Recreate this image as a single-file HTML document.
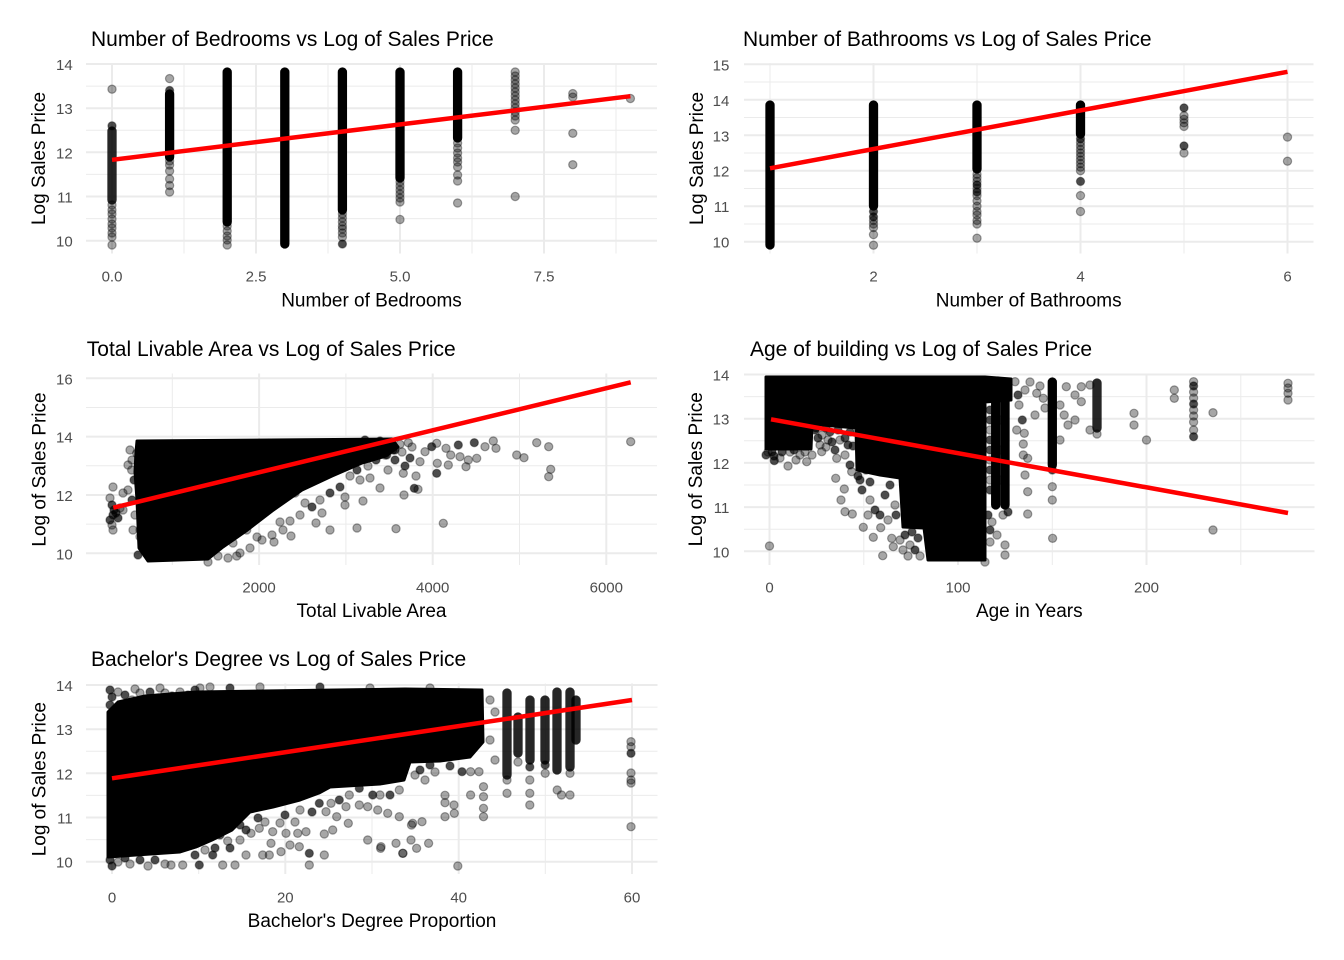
<!DOCTYPE html>
<html><head><meta charset="utf-8"><style>
html,body{margin:0;padding:0;background:#fff;}
svg{display:block;font-family:"Liberation Sans",Arial,sans-serif;}
.mj{stroke:#EBEBEB;stroke-width:2;}
.mn{stroke:#EBEBEB;stroke-width:1;}
.g circle{fill:#000;fill-opacity:.35;stroke:#000;stroke-opacity:.35;stroke-width:1.2;}
.g circle.d{fill-opacity:.7;}
.c{stroke:#000;stroke-width:9.3;stroke-linecap:round;}
.c2{stroke:#000;stroke-opacity:.85;stroke-width:9.3;stroke-linecap:round;}
.rl{stroke:#FF0000;stroke-width:4.5;}
.tk{font-size:15px;fill:#4D4D4D;}
.at{font-size:19px;fill:#000;}
.tt{font-size:21px;fill:#000;}
</style></head><body>
<svg width="1344" height="960" viewBox="0 0 1344 960" xmlns="http://www.w3.org/2000/svg">
<rect width="1344" height="960" fill="#fff"/>

<!-- ================= PANEL 1 ================= -->
<g>
<line class="mn" x1="86" x2="657" y1="218.6" y2="218.6"/><line class="mn" x1="86" x2="657" y1="174.4" y2="174.4"/><line class="mn" x1="86" x2="657" y1="130.3" y2="130.3"/><line class="mn" x1="86" x2="657" y1="86.1" y2="86.1"/>
<line class="mn" y1="63" y2="253.5" x1="184" x2="184"/><line class="mn" y1="63" y2="253.5" x1="328" x2="328"/><line class="mn" y1="63" y2="253.5" x1="472" x2="472"/><line class="mn" y1="63" y2="253.5" x1="616" x2="616"/>
<line class="mj" x1="86" x2="657" y1="240.7" y2="240.7"/><line class="mj" x1="86" x2="657" y1="196.5" y2="196.5"/><line class="mj" x1="86" x2="657" y1="152.3" y2="152.3"/><line class="mj" x1="86" x2="657" y1="108.2" y2="108.2"/><line class="mj" x1="86" x2="657" y1="64" y2="64"/>
<line class="mj" y1="63" y2="253.5" x1="112" x2="112"/><line class="mj" y1="63" y2="253.5" x1="256" x2="256"/><line class="mj" y1="63" y2="253.5" x1="400" x2="400"/><line class="mj" y1="63" y2="253.5" x1="544" x2="544"/>

<line class="c2" x1="112" x2="112" y1="131" y2="200"/>
<line class="c" x1="169.6" x2="169.6" y1="94" y2="157"/>
<line class="c" x1="227.2" x2="227.2" y1="72" y2="222"/>
<line class="c" x1="284.8" x2="284.8" y1="72" y2="244"/>
<line class="c" x1="342.4" x2="342.4" y1="72" y2="210"/>
<line class="c" x1="400" x2="400" y1="72" y2="178"/>
<line class="c" x1="457.6" x2="457.6" y1="72" y2="138"/>
<g class="g">
<circle cx="112" cy="89.2" r="4.1"/><circle cx="112" cy="125.8" r="4.1" class="d"/><circle cx="112" cy="205" r="4.1"/><circle cx="112" cy="210" r="4.1"/><circle cx="112" cy="214" r="4.1"/><circle cx="112" cy="219" r="4.1"/><circle cx="112" cy="224" r="4.1"/><circle cx="112" cy="228" r="4.1"/><circle cx="112" cy="233" r="4.1"/><circle cx="112" cy="237" r="4.1"/><circle cx="112" cy="245" r="4.1"/>
<circle cx="169.6" cy="78.6" r="4.1"/><circle cx="169.6" cy="90.5" r="4.1" class="d"/><circle cx="169.6" cy="161" r="4.1"/><circle cx="169.6" cy="165" r="4.1"/><circle cx="169.6" cy="171" r="4.1"/><circle cx="169.6" cy="179" r="4.1"/><circle cx="169.6" cy="185.5" r="4.1"/><circle cx="169.6" cy="192" r="4.1"/>
<circle cx="227.2" cy="226" r="4.1"/><circle cx="227.2" cy="231" r="4.1"/><circle cx="227.2" cy="236" r="4.1"/><circle cx="227.2" cy="240" r="4.1"/><circle cx="227.2" cy="245" r="4.1"/>
<circle cx="342.4" cy="214" r="4.1"/><circle cx="342.4" cy="218" r="4.1"/><circle cx="342.4" cy="222" r="4.1"/><circle cx="342.4" cy="226" r="4.1"/><circle cx="342.4" cy="229" r="4.1"/><circle cx="342.4" cy="233" r="4.1"/><circle cx="342.4" cy="237" r="4.1"/><circle cx="342.4" cy="244" r="4.1" class="d"/>
<circle cx="400" cy="182" r="4.1"/><circle cx="400" cy="186" r="4.1"/><circle cx="400" cy="190" r="4.1"/><circle cx="400" cy="194" r="4.1"/><circle cx="400" cy="198" r="4.1"/><circle cx="400" cy="202" r="4.1"/><circle cx="400" cy="219.5" r="4.1"/>
<circle cx="457.6" cy="143" r="4.1"/><circle cx="457.6" cy="148" r="4.1"/><circle cx="457.6" cy="153" r="4.1"/><circle cx="457.6" cy="158" r="4.1"/><circle cx="457.6" cy="162" r="4.1"/><circle cx="457.6" cy="167" r="4.1"/><circle cx="457.6" cy="175" r="4.1"/><circle cx="457.6" cy="181" r="4.1"/><circle cx="457.6" cy="203" r="4.1"/>
<circle cx="515.2" cy="72" r="4.1"/><circle cx="515.2" cy="76" r="4.1"/><circle cx="515.2" cy="80" r="4.1"/><circle cx="515.2" cy="84" r="4.1"/><circle cx="515.2" cy="88" r="4.1"/><circle cx="515.2" cy="92" r="4.1"/><circle cx="515.2" cy="96" r="4.1"/><circle cx="515.2" cy="100" r="4.1"/><circle cx="515.2" cy="104" r="4.1"/><circle cx="515.2" cy="108" r="4.1"/><circle cx="515.2" cy="112" r="4.1"/><circle cx="515.2" cy="116" r="4.1"/><circle cx="515.2" cy="120" r="4.1"/><circle cx="515.2" cy="130.3" r="4.1"/><circle cx="515.2" cy="196.5" r="4.1"/>
<circle cx="572.8" cy="93.6" r="4.1"/><circle cx="572.8" cy="97.1" r="4.1"/><circle cx="572.8" cy="133.3" r="4.1"/><circle cx="572.8" cy="164.7" r="4.1"/>
<circle cx="630.4" cy="98.5" r="4.1"/>
</g>
<line class="rl" x1="112" y1="159.8" x2="630.4" y2="96.2"/>

<text class="tk" x="72.7" y="70" text-anchor="end">14</text><text class="tk" x="72.7" y="114.2" text-anchor="end">13</text><text class="tk" x="72.7" y="158.3" text-anchor="end">12</text><text class="tk" x="72.7" y="202.5" text-anchor="end">11</text><text class="tk" x="72.7" y="246.7" text-anchor="end">10</text>
<text class="tk" x="112" y="281.7" text-anchor="middle">0.0</text><text class="tk" x="256" y="281.7" text-anchor="middle">2.5</text><text class="tk" x="400" y="281.7" text-anchor="middle">5.0</text><text class="tk" x="544" y="281.7" text-anchor="middle">7.5</text>
<text class="at" x="371.5" y="306.7" text-anchor="middle">Number of Bedrooms</text>
<text class="at" transform="translate(45.2,158.5) rotate(-90)" text-anchor="middle">Log Sales Price</text>
<text class="tt" x="91" y="46">Number of Bedrooms vs Log of Sales Price</text>
</g>

<!-- ================= PANEL 2 ================= -->
<g>
<line class="mn" x1="744" x2="1313.5" y1="224" y2="224"/><line class="mn" x1="744" x2="1313.5" y1="188.5" y2="188.5"/><line class="mn" x1="744" x2="1313.5" y1="153" y2="153"/><line class="mn" x1="744" x2="1313.5" y1="117.5" y2="117.5"/><line class="mn" x1="744" x2="1313.5" y1="82" y2="82"/>
<line class="mn" y1="63" y2="253.5" x1="770" x2="770"/><line class="mn" y1="63" y2="253.5" x1="977" x2="977"/><line class="mn" y1="63" y2="253.5" x1="1184" x2="1184"/>
<line class="mj" x1="744" x2="1313.5" y1="241.7" y2="241.7"/><line class="mj" x1="744" x2="1313.5" y1="206.2" y2="206.2"/><line class="mj" x1="744" x2="1313.5" y1="170.7" y2="170.7"/><line class="mj" x1="744" x2="1313.5" y1="135.3" y2="135.3"/><line class="mj" x1="744" x2="1313.5" y1="99.8" y2="99.8"/><line class="mj" x1="744" x2="1313.5" y1="64.3" y2="64.3"/>
<line class="mj" y1="63" y2="253.5" x1="873.5" x2="873.5"/><line class="mj" y1="63" y2="253.5" x1="1080.5" x2="1080.5"/><line class="mj" y1="63" y2="253.5" x1="1287.5" x2="1287.5"/>

<line class="c" x1="770" x2="770" y1="105" y2="245"/>
<line class="c" x1="873.5" x2="873.5" y1="105" y2="206"/>
<line class="c" x1="977" x2="977" y1="105" y2="169"/>
<line class="c" x1="1080.5" x2="1080.5" y1="105" y2="134"/>
<g class="g">
<circle cx="873.5" cy="211.5" r="4.1" class="d"/><circle cx="873.5" cy="216.9" r="4.1" class="d"/><circle cx="873.5" cy="220.4" r="4.1"/><circle cx="873.5" cy="224" r="4.1"/><circle cx="873.5" cy="227.5" r="4.1"/><circle cx="873.5" cy="234.6" r="4.1"/><circle cx="873.5" cy="245.2" r="4.1"/>
<circle cx="977" cy="174.3" r="4.1"/><circle cx="977" cy="177.8" r="4.1"/><circle cx="977" cy="181.4" r="4.1"/><circle cx="977" cy="184.9" r="4.1" class="d"/><circle cx="977" cy="188.5" r="4.1"/><circle cx="977" cy="192" r="4.1" class="d"/><circle cx="977" cy="195.6" r="4.1"/><circle cx="977" cy="200.9" r="4.1"/><circle cx="977" cy="206.2" r="4.1"/><circle cx="977" cy="211.5" r="4.1"/><circle cx="977" cy="215.1" r="4.1"/><circle cx="977" cy="220.4" r="4.1"/><circle cx="977" cy="224" r="4.1"/><circle cx="977" cy="238.2" r="4.1"/>
<circle cx="1080.5" cy="138.8" r="4.1" class="d"/><circle cx="1080.5" cy="142.4" r="4.1"/><circle cx="1080.5" cy="145.9" r="4.1"/><circle cx="1080.5" cy="149.5" r="4.1"/><circle cx="1080.5" cy="153" r="4.1"/><circle cx="1080.5" cy="156.5" r="4.1"/><circle cx="1080.5" cy="160.1" r="4.1"/><circle cx="1080.5" cy="163.6" r="4.1"/><circle cx="1080.5" cy="167.2" r="4.1"/><circle cx="1080.5" cy="170.7" r="4.1"/><circle cx="1080.5" cy="181.4" r="4.1" class="d"/><circle cx="1080.5" cy="195.6" r="4.1"/><circle cx="1080.5" cy="211.5" r="4.1"/>
<circle cx="1184" cy="107.9" r="4.1" class="d"/><circle cx="1184" cy="115.7" r="4.1"/><circle cx="1184" cy="119.3" r="4.1"/><circle cx="1184" cy="122.8" r="4.1"/><circle cx="1184" cy="126.4" r="4.1"/><circle cx="1184" cy="145.9" r="4.1" class="d"/><circle cx="1184" cy="153" r="4.1"/>
<circle cx="1287.5" cy="137.1" r="4.1"/><circle cx="1287.5" cy="161.2" r="4.1"/>
</g>
<line class="rl" x1="770" y1="168.3" x2="1287.5" y2="71.8"/>

<text class="tk" x="729.3" y="70.3" text-anchor="end">15</text><text class="tk" x="729.3" y="105.8" text-anchor="end">14</text><text class="tk" x="729.3" y="141.3" text-anchor="end">13</text><text class="tk" x="729.3" y="176.7" text-anchor="end">12</text><text class="tk" x="729.3" y="212.2" text-anchor="end">11</text><text class="tk" x="729.3" y="247.7" text-anchor="end">10</text>
<text class="tk" x="873.5" y="281.7" text-anchor="middle">2</text><text class="tk" x="1080.5" y="281.7" text-anchor="middle">4</text><text class="tk" x="1287.5" y="281.7" text-anchor="middle">6</text>
<text class="at" x="1028.7" y="306.7" text-anchor="middle">Number of Bathrooms</text>
<text class="at" transform="translate(703,158.5) rotate(-90)" text-anchor="middle">Log Sales Price</text>
<text class="tt" x="743" y="46">Number of Bathrooms vs Log of Sales Price</text>
</g>

<!-- ================= PANEL 3 ================= -->
<g>
<line class="mn" x1="86" x2="657" y1="524.1" y2="524.1"/><line class="mn" x1="86" x2="657" y1="465.8" y2="465.8"/><line class="mn" x1="86" x2="657" y1="407.5" y2="407.5"/>
<line class="mn" y1="373.5" y2="565" x1="172.3" x2="172.3"/><line class="mn" y1="373.5" y2="565" x1="345.9" x2="345.9"/><line class="mn" y1="373.5" y2="565" x1="519.5" x2="519.5"/>
<line class="mj" x1="86" x2="657" y1="553.3" y2="553.3"/><line class="mj" x1="86" x2="657" y1="495" y2="495"/><line class="mj" x1="86" x2="657" y1="436.6" y2="436.6"/><line class="mj" x1="86" x2="657" y1="378.3" y2="378.3"/>
<line class="mj" y1="373.5" y2="565" x1="259.1" x2="259.1"/><line class="mj" y1="373.5" y2="565" x1="432.7" x2="432.7"/><line class="mj" y1="373.5" y2="565" x1="606.3" x2="606.3"/>

<path d="M137,441 L392,439 L398,447 L386,456 L362,463 L332,476 L302,490 L272,511 L246,531 L223,547 L208,559 L148,561 L139,548 L137,500 L135,472 L136,452 Z" fill="#000" stroke="#000" stroke-width="3" stroke-linejoin="round"/>
<g class="g">
<circle cx="112" cy="505" r="4.1" class="d"/><circle cx="114" cy="510" r="4.1" class="d"/><circle cx="113" cy="515" r="4.1" class="d"/><circle cx="110" cy="520" r="4.1" class="d"/><circle cx="116" cy="513" r="4.1" class="d"/><circle cx="120" cy="508" r="4.1"/><circle cx="118" cy="518" r="4.1" class="d"/><circle cx="112" cy="525" r="4.1"/><circle cx="113" cy="530" r="4.1"/><circle cx="113" cy="487" r="4.1"/><circle cx="123" cy="493" r="4.1"/><circle cx="110" cy="498" r="4.1"/><circle cx="128" cy="490" r="4.1"/><circle cx="123" cy="510" r="4.1"/>
<circle cx="136.7" cy="453.3" r="4.1"/><circle cx="131.7" cy="470" r="4.1"/><circle cx="140" cy="530" r="4.1"/><circle cx="140" cy="536.7" r="4.1"/><circle cx="143.3" cy="446.7" r="4.1" class="d"/><circle cx="132" cy="460" r="4.1"/><circle cx="134" cy="480" r="4.1" class="d"/><circle cx="135" cy="515" r="4.1"/><circle cx="138" cy="555" r="4.1" class="d"/><circle cx="130" cy="450" r="4.1"/><circle cx="128" cy="465" r="4.1"/><circle cx="132" cy="500" r="4.1" class="d"/><circle cx="133" cy="530" r="4.1"/>
<circle cx="365" cy="440" r="4.1" class="d"/><circle cx="372" cy="445" r="4.1"/><circle cx="380" cy="441" r="4.1" class="d"/><circle cx="388" cy="444" r="4.1"/><circle cx="395" cy="450" r="4.1" class="d"/><circle cx="385" cy="455" r="4.1"/><circle cx="376" cy="460" r="4.1" class="d"/><circle cx="368" cy="466" r="4.1"/><circle cx="357" cy="470" r="4.1" class="d"/><circle cx="350" cy="476" r="4.1"/><circle cx="360" cy="480" r="4.1"/><circle cx="340" cy="487" r="4.1" class="d"/><circle cx="345" cy="497" r="4.1"/><circle cx="330" cy="493" r="4.1" class="d"/><circle cx="320" cy="500" r="4.1"/><circle cx="312" cy="507" r="4.1" class="d"/><circle cx="300" cy="515" r="4.1"/><circle cx="290" cy="521" r="4.1"/><circle cx="283" cy="530" r="4.1"/><circle cx="272" cy="535" r="4.1"/><circle cx="262" cy="540" r="4.1"/><circle cx="250" cy="548" r="4.1"/><circle cx="240" cy="553" r="4.1"/><circle cx="228" cy="558" r="4.1"/><circle cx="218" cy="556" r="4.1"/>
<circle cx="257" cy="537" r="4.1"/><circle cx="274" cy="542" r="4.1"/><circle cx="291" cy="536" r="4.1"/><circle cx="316" cy="523" r="4.1"/><circle cx="330" cy="530" r="4.1"/><circle cx="345" cy="505" r="4.1"/><circle cx="363" cy="501" r="4.1"/><circle cx="370" cy="478" r="4.1"/><circle cx="380" cy="488" r="4.1"/><circle cx="233" cy="543" r="4.1"/><circle cx="246.7" cy="530" r="4.1"/><circle cx="280" cy="522" r="4.1"/><circle cx="295" cy="493" r="4.1"/><circle cx="305" cy="503" r="4.1"/><circle cx="322" cy="513" r="4.1"/><circle cx="236.7" cy="556" r="4.1"/><circle cx="208" cy="562" r="4.1"/><circle cx="357" cy="528" r="4.1"/>
<circle cx="400" cy="444.3" r="4.1"/><circle cx="408.3" cy="442.7" r="4.1"/><circle cx="403.3" cy="473.3" r="4.1"/><circle cx="404" cy="495" r="4.1"/><circle cx="396" cy="528.7" r="4.1"/><circle cx="414.3" cy="488.3" r="4.1" class="d"/><circle cx="418" cy="489.3" r="4.1"/><circle cx="425" cy="451.7" r="4.1"/><circle cx="431.7" cy="446.7" r="4.1" class="d"/><circle cx="436.7" cy="443.3" r="4.1"/><circle cx="446" cy="448.3" r="4.1"/><circle cx="437.3" cy="463.3" r="4.1"/><circle cx="436.7" cy="473.3" r="4.1" class="d"/><circle cx="448.3" cy="465" r="4.1"/><circle cx="443.3" cy="523.3" r="4.1"/><circle cx="450.7" cy="455" r="4.1"/><circle cx="460" cy="456.7" r="4.1"/><circle cx="458.3" cy="445" r="4.1" class="d"/><circle cx="466" cy="466.7" r="4.1"/><circle cx="468.3" cy="460" r="4.1"/><circle cx="474.3" cy="442.7" r="4.1" class="d"/><circle cx="476.7" cy="458.3" r="4.1"/><circle cx="485" cy="446.7" r="4.1"/><circle cx="493.3" cy="441" r="4.1"/><circle cx="496" cy="448.3" r="4.1"/><circle cx="516.7" cy="455" r="4.1"/><circle cx="524" cy="457.7" r="4.1"/><circle cx="536.7" cy="442.7" r="4.1"/><circle cx="548.7" cy="446.7" r="4.1"/><circle cx="550.7" cy="469.3" r="4.1"/><circle cx="548.7" cy="476.7" r="4.1"/><circle cx="630.7" cy="441.7" r="4.1"/><circle cx="420" cy="461.7" r="4.1"/><circle cx="386.7" cy="455" r="4.1" class="d"/><circle cx="393" cy="450" r="4.1" class="d"/><circle cx="388" cy="470" r="4.1"/><circle cx="395" cy="460" r="4.1" class="d"/><circle cx="410" cy="458" r="4.1" class="d"/><circle cx="405" cy="466" r="4.1" class="d"/><circle cx="416" cy="476" r="4.1"/><circle cx="402" cy="452" r="4.1"/><circle cx="412" cy="447" r="4.1"/>
</g>
<line class="rl" x1="113.3" y1="507.7" x2="630.7" y2="382.3"/>

<text class="tk" x="72.7" y="384.3" text-anchor="end">16</text><text class="tk" x="72.7" y="442.6" text-anchor="end">14</text><text class="tk" x="72.7" y="501" text-anchor="end">12</text><text class="tk" x="72.7" y="559.3" text-anchor="end">10</text>
<text class="tk" x="259.1" y="592.3" text-anchor="middle">2000</text><text class="tk" x="432.7" y="592.3" text-anchor="middle">4000</text><text class="tk" x="606.3" y="592.3" text-anchor="middle">6000</text>
<text class="at" x="371.5" y="617" text-anchor="middle">Total Livable Area</text>
<text class="at" transform="translate(45.4,469.5) rotate(-90)" text-anchor="middle">Log of Sales Price</text>
<text class="tt" x="86.8" y="356">Total Livable Area vs Log of Sales Price</text>
</g>

<!-- ================= PANEL 4 ================= -->
<g>
<line class="mn" x1="744" x2="1314.5" y1="529.2" y2="529.2"/><line class="mn" x1="744" x2="1314.5" y1="485" y2="485"/><line class="mn" x1="744" x2="1314.5" y1="440.8" y2="440.8"/><line class="mn" x1="744" x2="1314.5" y1="396.6" y2="396.6"/>
<line class="mn" y1="373.5" y2="565" x1="863.8" x2="863.8"/><line class="mn" y1="373.5" y2="565" x1="1052.3" x2="1052.3"/><line class="mn" y1="373.5" y2="565" x1="1240.8" x2="1240.8"/>
<line class="mj" x1="744" x2="1314.5" y1="551.3" y2="551.3"/><line class="mj" x1="744" x2="1314.5" y1="507.1" y2="507.1"/><line class="mj" x1="744" x2="1314.5" y1="462.9" y2="462.9"/><line class="mj" x1="744" x2="1314.5" y1="418.7" y2="418.7"/><line class="mj" x1="744" x2="1314.5" y1="374.5" y2="374.5"/>
<line class="mj" y1="373.5" y2="565" x1="769.5" x2="769.5"/><line class="mj" y1="373.5" y2="565" x1="958" x2="958"/><line class="mj" y1="373.5" y2="565" x1="1146.5" x2="1146.5"/>

<path d="M766,377 L985,377 L1011,379 L1011,400 L985,402 L985,560 L928,560 L924,528 L903,527 L900,478 L880,475 L857,470 L856,428 L812,424 L811,449 L766,449 Z" fill="#000" stroke="#000" stroke-width="3" stroke-linejoin="round"/>
<line class="c" x1="995.7" x2="995.7" y1="392" y2="505"/>
<line class="c" x1="1005" x2="1005" y1="392" y2="505"/>
<line class="c" x1="1052.3" x2="1052.3" y1="382" y2="465"/>
<line class="c2" x1="1097" x2="1097" y1="383" y2="428"/>
<g class="g">
<circle cx="990" cy="381" r="4.1" class="d"/><circle cx="998" cy="381" r="4.1"/><circle cx="1006" cy="383" r="4.1"/><circle cx="990" cy="395" r="4.1" class="d"/><circle cx="990" cy="410" r="4.1" class="d"/><circle cx="990" cy="420" r="4.1" class="d"/><circle cx="990" cy="430" r="4.1"/><circle cx="990" cy="440" r="4.1" class="d"/><circle cx="990" cy="450" r="4.1" class="d"/><circle cx="990" cy="460" r="4.1"/><circle cx="990" cy="470" r="4.1" class="d"/><circle cx="990" cy="480" r="4.1"/><circle cx="990" cy="490" r="4.1" class="d"/><circle cx="1000" cy="420" r="4.1"/><circle cx="1000" cy="450" r="4.1"/><circle cx="1000" cy="480" r="4.1"/><circle cx="988" cy="515" r="4.1" class="d"/><circle cx="992" cy="522" r="4.1"/><circle cx="990" cy="530" r="4.1" class="d"/><circle cx="997" cy="535" r="4.1"/><circle cx="990" cy="542" r="4.1"/><circle cx="1005" cy="545" r="4.1"/><circle cx="1003" cy="515" r="4.1"/><circle cx="1008" cy="512" r="4.1" class="d"/><circle cx="985" cy="562" r="4.1"/>
<circle cx="774.3" cy="460.7" r="4.1" class="d"/><circle cx="774" cy="456" r="4.1" class="d"/><circle cx="768" cy="452" r="4.1"/><circle cx="769.5" cy="546" r="4.1"/><circle cx="790" cy="452" r="4.1"/><circle cx="800" cy="455" r="4.1"/><circle cx="772" cy="452" r="4.1" class="d"/><circle cx="782" cy="452" r="4.1" class="d"/><circle cx="794" cy="450" r="4.1" class="d"/><circle cx="805" cy="452" r="4.1"/><circle cx="780" cy="458" r="4.1"/><circle cx="796" cy="460" r="4.1"/><circle cx="788" cy="466" r="4.1"/><circle cx="766" cy="455" r="4.1" class="d"/>
<circle cx="816" cy="428" r="4.1" class="d"/><circle cx="826" cy="428" r="4.1" class="d"/><circle cx="838" cy="430" r="4.1" class="d"/><circle cx="850" cy="432" r="4.1" class="d"/><circle cx="818" cy="438" r="4.1" class="d"/><circle cx="832" cy="442" r="4.1" class="d"/><circle cx="845" cy="438" r="4.1" class="d"/><circle cx="853" cy="446" r="4.1" class="d"/><circle cx="826" cy="447" r="4.1"/><circle cx="812" cy="455" r="4.1"/><circle cx="858" cy="476" r="4.1" class="d"/><circle cx="866" cy="470" r="4.1" class="d"/>
<circle cx="815" cy="430" r="4.1" class="d"/><circle cx="822" cy="435" r="4.1"/><circle cx="830" cy="432" r="4.1" class="d"/><circle cx="840" cy="440" r="4.1"/><circle cx="848" cy="445" r="4.1" class="d"/><circle cx="820" cy="445" r="4.1"/><circle cx="835" cy="450" r="4.1" class="d"/><circle cx="845" cy="455" r="4.1"/><circle cx="806.7" cy="461.7" r="4.1"/><circle cx="821.7" cy="451.7" r="4.1"/><circle cx="836.7" cy="458.3" r="4.1"/><circle cx="851.7" cy="471.7" r="4.1"/><circle cx="835.7" cy="478.3" r="4.1"/><circle cx="844.3" cy="489" r="4.1"/><circle cx="841" cy="500" r="4.1"/><circle cx="845" cy="511.7" r="4.1"/><circle cx="852.3" cy="514" r="4.1"/><circle cx="828" cy="440" r="4.1"/><circle cx="850" cy="465" r="4.1" class="d"/>
<circle cx="863.3" cy="527.3" r="4.1"/><circle cx="873.3" cy="537.3" r="4.1"/><circle cx="882.7" cy="555.7" r="4.1"/><circle cx="880.7" cy="527.7" r="4.1"/><circle cx="891.7" cy="538.3" r="4.1"/><circle cx="893.3" cy="546.7" r="4.1"/><circle cx="862" cy="490" r="4.1" class="d"/><circle cx="870" cy="500" r="4.1"/><circle cx="875" cy="510" r="4.1" class="d"/><circle cx="885" cy="495" r="4.1" class="d"/><circle cx="890" cy="485" r="4.1" class="d"/><circle cx="895" cy="505" r="4.1"/><circle cx="860" cy="480" r="4.1" class="d"/><circle cx="868" cy="515" r="4.1"/><circle cx="880" cy="515" r="4.1" class="d"/><circle cx="888" cy="520" r="4.1"/><circle cx="896" cy="515" r="4.1" class="d"/><circle cx="870" cy="482" r="4.1" class="d"/>
<circle cx="905" cy="535" r="4.1" class="d"/><circle cx="910" cy="545" r="4.1"/><circle cx="915" cy="550" r="4.1" class="d"/><circle cx="920" cy="556" r="4.1"/><circle cx="908" cy="556" r="4.1"/><circle cx="918" cy="538" r="4.1" class="d"/><circle cx="900" cy="540" r="4.1"/><circle cx="912" cy="532" r="4.1" class="d"/><circle cx="903" cy="550" r="4.1"/>
<circle cx="1015" cy="381.7" r="4.1"/><circle cx="1025" cy="390" r="4.1"/><circle cx="1036.7" cy="393.3" r="4.1"/><circle cx="1043.3" cy="398.3" r="4.1"/><circle cx="1035" cy="415" r="4.1"/><circle cx="1022.3" cy="420" r="4.1" class="d"/><circle cx="1016.7" cy="430" r="4.1"/><circle cx="1024.3" cy="433.3" r="4.1"/><circle cx="1023.3" cy="444" r="4.1"/><circle cx="1023.3" cy="455" r="4.1"/><circle cx="1027.7" cy="458.3" r="4.1"/><circle cx="1025" cy="475" r="4.1"/><circle cx="1027.7" cy="491.7" r="4.1"/><circle cx="1027.7" cy="514" r="4.1"/><circle cx="1019" cy="405" r="4.1"/><circle cx="1045" cy="408" r="4.1"/><circle cx="1030" cy="382" r="4.1"/><circle cx="1040" cy="386" r="4.1"/><circle cx="1018" cy="395" r="4.1" class="d"/><circle cx="1005" cy="555" r="4.1"/>
<circle cx="1052.3" cy="470" r="4.1" class="d"/><circle cx="1052.3" cy="486.7" r="4.1"/><circle cx="1052.3" cy="500" r="4.1"/><circle cx="1052.6" cy="538.3" r="4.1"/>
<circle cx="1066.3" cy="386.7" r="4.1"/><circle cx="1081.3" cy="386.7" r="4.1"/><circle cx="1075" cy="395" r="4.1"/><circle cx="1075" cy="420" r="4.1"/><circle cx="1090" cy="430" r="4.1"/><circle cx="1064.2" cy="415" r="4.1"/><circle cx="1060" cy="405" r="4.1"/><circle cx="1090" cy="385" r="4.1"/><circle cx="1081.3" cy="401.7" r="4.1"/><circle cx="1068" cy="425" r="4.1"/><circle cx="1060" cy="440" r="4.1"/><circle cx="1097" cy="434" r="4.1"/>
<circle cx="1134" cy="413.3" r="4.1"/><circle cx="1134" cy="425" r="4.1"/><circle cx="1146.5" cy="440" r="4.1"/><circle cx="1174.3" cy="390" r="4.1"/><circle cx="1174.3" cy="398.3" r="4.1"/>
<circle cx="1193.6" cy="381.7" r="4.1"/><circle cx="1193.6" cy="386" r="4.1" class="d"/><circle cx="1193.6" cy="392" r="4.1"/><circle cx="1193.6" cy="398" r="4.1"/><circle cx="1193.6" cy="404" r="4.1" class="d"/><circle cx="1193.6" cy="410" r="4.1"/><circle cx="1193.6" cy="416" r="4.1"/><circle cx="1193.6" cy="422" r="4.1"/><circle cx="1193.6" cy="430" r="4.1"/><circle cx="1193.6" cy="436.7" r="4.1" class="d"/>
<circle cx="1213" cy="412.7" r="4.1"/><circle cx="1213" cy="530" r="4.1"/><circle cx="1288" cy="383.3" r="4.1"/><circle cx="1288" cy="388" r="4.1"/><circle cx="1288" cy="393.3" r="4.1"/><circle cx="1288" cy="400" r="4.1"/>
</g>
<line class="rl" x1="771" y1="419.3" x2="1288" y2="513"/>

<text class="tk" x="729.3" y="380.5" text-anchor="end">14</text><text class="tk" x="729.3" y="424.7" text-anchor="end">13</text><text class="tk" x="729.3" y="468.9" text-anchor="end">12</text><text class="tk" x="729.3" y="513.1" text-anchor="end">11</text><text class="tk" x="729.3" y="557.3" text-anchor="end">10</text>
<text class="tk" x="769.5" y="592.3" text-anchor="middle">0</text><text class="tk" x="958" y="592.3" text-anchor="middle">100</text><text class="tk" x="1146.5" y="592.3" text-anchor="middle">200</text>
<text class="at" x="1029.3" y="617" text-anchor="middle">Age in Years</text>
<text class="at" transform="translate(702,469.3) rotate(-90)" text-anchor="middle">Log of Sales Price</text>
<text class="tt" x="750" y="356">Age of building vs Log of Sales Price</text>
</g>

<!-- ================= PANEL 5 ================= -->
<g>
<line class="mn" x1="86" x2="657.5" y1="839.6" y2="839.6"/><line class="mn" x1="86" x2="657.5" y1="795.4" y2="795.4"/><line class="mn" x1="86" x2="657.5" y1="751.3" y2="751.3"/><line class="mn" x1="86" x2="657.5" y1="707.1" y2="707.1"/>
<line class="mn" y1="683.5" y2="874" x1="198.7" x2="198.7"/><line class="mn" y1="683.5" y2="874" x1="372" x2="372"/><line class="mn" y1="683.5" y2="874" x1="545.3" x2="545.3"/>
<line class="mj" x1="86" x2="657.5" y1="861.7" y2="861.7"/><line class="mj" x1="86" x2="657.5" y1="817.5" y2="817.5"/><line class="mj" x1="86" x2="657.5" y1="773.3" y2="773.3"/><line class="mj" x1="86" x2="657.5" y1="729.2" y2="729.2"/><line class="mj" x1="86" x2="657.5" y1="685" y2="685"/>
<line class="mj" y1="683.5" y2="874" x1="112" x2="112"/><line class="mj" y1="683.5" y2="874" x1="285.3" x2="285.3"/><line class="mj" y1="683.5" y2="874" x1="458.7" x2="458.7"/><line class="mj" y1="683.5" y2="874" x1="632" x2="632"/>

<path d="M108,712 L118,702 L145,696 L196,692 L405,689 L482,690 L483,742 L470,757 L440,761 L410,762 L404,780 L380,784 L330,787 L319,793 L300,800 L273,807 L250,812 L232,830 L212,840 L196,847 L180,852 L108,857 Z" fill="#000" stroke="#000" stroke-width="3" stroke-linejoin="round"/>
<line class="c2" x1="507" x2="507" y1="693" y2="775"/>
<line class="c2" x1="518" x2="518" y1="717" y2="753"/>
<line class="c2" x1="530" x2="530" y1="700" y2="760"/>
<line class="c2" x1="545" x2="545" y1="700" y2="760"/>
<line class="c2" x1="557" x2="557" y1="692" y2="770"/>
<line class="c2" x1="570" x2="570" y1="692" y2="767"/>
<line class="c2" x1="576" x2="576" y1="700" y2="740"/>
<g class="g">
<circle cx="110" cy="690" r="4.1" class="d"/><circle cx="112" cy="697" r="4.1" class="d"/><circle cx="110" cy="705" r="4.1" class="d"/><circle cx="118" cy="692" r="4.1"/><circle cx="125" cy="695" r="4.1" class="d"/><circle cx="132" cy="700" r="4.1"/><circle cx="140" cy="693" r="4.1"/><circle cx="150" cy="692" r="4.1" class="d"/><circle cx="158" cy="698" r="4.1"/><circle cx="165" cy="693" r="4.1"/><circle cx="172" cy="696" r="4.1" class="d"/><circle cx="180" cy="692" r="4.1"/><circle cx="188" cy="695" r="4.1" class="d"/><circle cx="200" cy="688" r="4.1"/><circle cx="210" cy="687" r="4.1"/><circle cx="230" cy="688" r="4.1" class="d"/><circle cx="260" cy="687" r="4.1"/><circle cx="320" cy="687" r="4.1" class="d"/><circle cx="370" cy="688" r="4.1"/><circle cx="430" cy="688" r="4.1"/><circle cx="195" cy="690" r="4.1" class="d"/><circle cx="135" cy="689" r="4.1"/><circle cx="160" cy="688" r="4.1"/>
<circle cx="110" cy="860" r="4.1" class="d"/><circle cx="112" cy="866" r="4.1" class="d"/><circle cx="118" cy="862" r="4.1"/><circle cx="125" cy="858" r="4.1" class="d"/><circle cx="130" cy="864" r="4.1"/><circle cx="140" cy="860" r="4.1" class="d"/><circle cx="148" cy="866" r="4.1"/><circle cx="155" cy="860" r="4.1" class="d"/><circle cx="165" cy="864" r="4.1"/><circle cx="171" cy="865" r="4.1"/><circle cx="182.7" cy="865" r="4.1"/><circle cx="199.3" cy="865" r="4.1" class="d"/><circle cx="212.7" cy="855" r="4.1" class="d"/><circle cx="222.7" cy="865" r="4.1"/><circle cx="235" cy="865" r="4.1"/><circle cx="227.7" cy="841" r="4.1"/><circle cx="246" cy="855" r="4.1"/><circle cx="262.7" cy="855" r="4.1"/><circle cx="269.3" cy="855" r="4.1"/><circle cx="281" cy="851.7" r="4.1"/><circle cx="271" cy="843.3" r="4.1"/><circle cx="290" cy="845" r="4.1"/><circle cx="299.3" cy="846.7" r="4.1"/><circle cx="309.3" cy="853.3" r="4.1" class="d"/><circle cx="309.3" cy="865" r="4.1"/><circle cx="324.3" cy="855" r="4.1"/><circle cx="306" cy="831.7" r="4.1"/><circle cx="297.7" cy="833.3" r="4.1"/><circle cx="286" cy="833.3" r="4.1"/><circle cx="272.7" cy="831.7" r="4.1"/><circle cx="259.3" cy="828.3" r="4.1"/><circle cx="251" cy="833.3" r="4.1"/><circle cx="246" cy="830" r="4.1" class="d"/><circle cx="324.3" cy="834" r="4.1"/><circle cx="332.7" cy="830" r="4.1"/><circle cx="348.3" cy="823.3" r="4.1"/><circle cx="336.7" cy="816.7" r="4.1"/><circle cx="326" cy="811.7" r="4.1"/><circle cx="319.3" cy="803.3" r="4.1" class="d"/><circle cx="331" cy="803.3" r="4.1"/><circle cx="339.3" cy="800" r="4.1" class="d"/><circle cx="349.3" cy="795" r="4.1"/><circle cx="359.3" cy="805" r="4.1"/><circle cx="367.7" cy="806.7" r="4.1"/><circle cx="377.7" cy="810" r="4.1"/><circle cx="387.7" cy="813.3" r="4.1"/><circle cx="399.3" cy="816.7" r="4.1"/><circle cx="367.7" cy="840" r="4.1"/><circle cx="381" cy="846.7" r="4.1"/><circle cx="396" cy="843.3" r="4.1"/><circle cx="402.7" cy="853.3" r="4.1"/><circle cx="412.7" cy="823.3" r="4.1"/><circle cx="411" cy="840" r="4.1"/><circle cx="372.7" cy="795" r="4.1" class="d"/><circle cx="380" cy="795" r="4.1"/><circle cx="390" cy="795" r="4.1" class="d"/><circle cx="399.3" cy="790" r="4.1"/><circle cx="359.3" cy="788.3" r="4.1" class="d"/><circle cx="346" cy="806.7" r="4.1"/><circle cx="195" cy="855" r="4.1" class="d"/><circle cx="205" cy="850" r="4.1"/><circle cx="215" cy="848" r="4.1" class="d"/><circle cx="220" cy="835" r="4.1" class="d"/><circle cx="240" cy="840" r="4.1"/><circle cx="258" cy="818" r="4.1" class="d"/><circle cx="265" cy="822" r="4.1"/><circle cx="285" cy="815" r="4.1" class="d"/><circle cx="300" cy="810" r="4.1"/><circle cx="312" cy="812" r="4.1" class="d"/><circle cx="280" cy="823" r="4.1"/><circle cx="295" cy="822" r="4.1"/><circle cx="240" cy="825" r="4.1" class="d"/><circle cx="230" cy="848" r="4.1" class="d"/>
<circle cx="445" cy="795.3" r="4.1"/><circle cx="445" cy="802.7" r="4.1"/><circle cx="445" cy="816.7" r="4.1"/><circle cx="454.3" cy="813.3" r="4.1"/><circle cx="454" cy="805" r="4.1"/><circle cx="470.6" cy="795" r="4.1"/><circle cx="483.5" cy="786.7" r="4.1"/><circle cx="483.5" cy="796.7" r="4.1"/><circle cx="483.5" cy="808.3" r="4.1"/><circle cx="483.5" cy="816.7" r="4.1"/><circle cx="479" cy="771.7" r="4.1"/><circle cx="470.6" cy="771.7" r="4.1"/><circle cx="462" cy="771.7" r="4.1" class="d"/><circle cx="420" cy="770" r="4.1" class="d"/><circle cx="430" cy="765" r="4.1" class="d"/><circle cx="415" cy="775" r="4.1"/><circle cx="425" cy="780" r="4.1"/><circle cx="435" cy="772" r="4.1"/><circle cx="450" cy="766" r="4.1" class="d"/><circle cx="411.5" cy="825" r="4.1"/><circle cx="422" cy="821.7" r="4.1"/><circle cx="428.6" cy="843.3" r="4.1"/><circle cx="403" cy="853.3" r="4.1"/><circle cx="380.6" cy="848.3" r="4.1"/><circle cx="416.6" cy="848.3" r="4.1"/><circle cx="457.8" cy="866" r="4.1"/>
<circle cx="507" cy="780" r="4.1"/><circle cx="507" cy="793.3" r="4.1"/><circle cx="529.8" cy="793.3" r="4.1"/><circle cx="529.8" cy="805" r="4.1"/><circle cx="529.8" cy="780" r="4.1"/><circle cx="529.8" cy="767" r="4.1" class="d"/><circle cx="557.2" cy="790" r="4.1"/><circle cx="561.5" cy="795" r="4.1"/><circle cx="570" cy="795" r="4.1"/><circle cx="570" cy="773.3" r="4.1"/><circle cx="545.2" cy="773.3" r="4.1"/><circle cx="545.2" cy="765" r="4.1" class="d"/><circle cx="518" cy="762" r="4.1"/><circle cx="490" cy="700" r="4.1"/><circle cx="495" cy="712" r="4.1"/><circle cx="490" cy="740" r="4.1"/><circle cx="495" cy="760" r="4.1"/>
<circle cx="631" cy="741.7" r="4.1"/><circle cx="631" cy="746.7" r="4.1"/><circle cx="631" cy="753.3" r="4.1" class="d"/><circle cx="631" cy="773" r="4.1"/><circle cx="631" cy="780" r="4.1"/><circle cx="631" cy="783" r="4.1"/><circle cx="631" cy="826.7" r="4.1"/>
</g>
<line class="rl" x1="112" y1="778.3" x2="632" y2="700"/>

<text class="tk" x="72.7" y="691" text-anchor="end">14</text><text class="tk" x="72.7" y="735.2" text-anchor="end">13</text><text class="tk" x="72.7" y="779.3" text-anchor="end">12</text><text class="tk" x="72.7" y="823.5" text-anchor="end">11</text><text class="tk" x="72.7" y="867.7" text-anchor="end">10</text>
<text class="tk" x="112" y="902.3" text-anchor="middle">0</text><text class="tk" x="285.3" y="902.3" text-anchor="middle">20</text><text class="tk" x="458.7" y="902.3" text-anchor="middle">40</text><text class="tk" x="632" y="902.3" text-anchor="middle">60</text>
<text class="at" x="372" y="927" text-anchor="middle">Bachelor's Degree Proportion</text>
<text class="at" transform="translate(45.4,779.2) rotate(-90)" text-anchor="middle">Log of Sales Price</text>
<text class="tt" x="91" y="666">Bachelor's Degree vs Log of Sales Price</text>
</g>
</svg>
</body></html>
